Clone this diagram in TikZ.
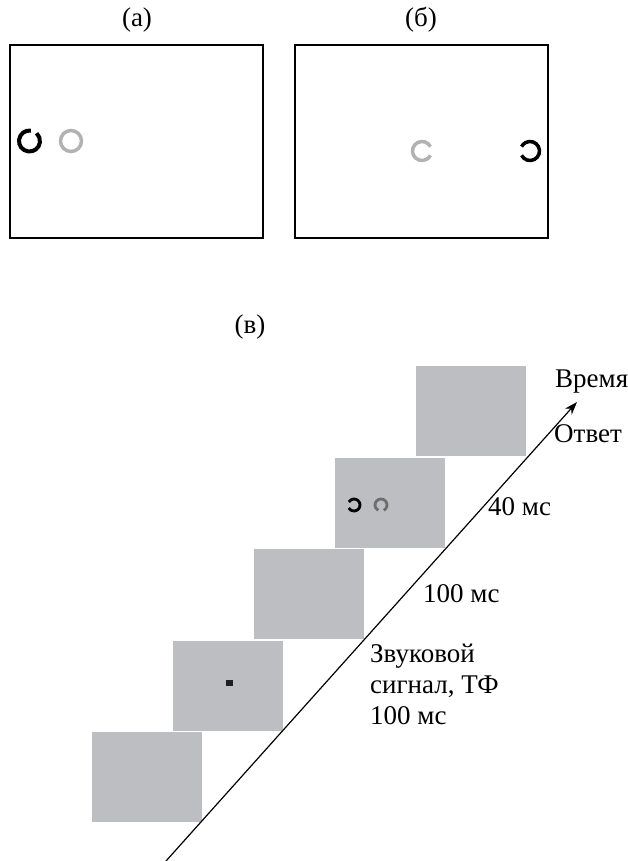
\documentclass[tikz,border=0pt]{standalone}
\usepackage{fontspec}
\setmainfont{Liberation Serif}
\usetikzlibrary{arrows.meta}

\definecolor{screen}{HTML}{BDBEC2}
\definecolor{lightring}{HTML}{B2B2B2}
\definecolor{darkring}{HTML}{6E6E6E}

% ring with a gap: centre, radius, gap direction, gap width, draw options
\newcommand\gapring[5]{%
  \draw[#5] (#1) ++({#3+#4/2}:#2) arc[start angle={#3+#4/2}, delta angle={360-#4}, radius=#2];}

\tikzset{
  frame/.style={draw=black, line width=1.3pt},
  panel/.style={draw=none, fill=screen, minimum width=110pt, minimum height=90pt, inner sep=0pt},
  lbl/.style={font=\fontsize{27}{31}\selectfont, inner sep=0pt},
  timeline/.style={line width=1.2pt, -{Stealth[length=13pt,width=9pt]}},
}

\begin{document}
\begin{tikzpicture}[x=1pt,y=-1pt]
\useasboundingbox (0,0) rectangle (627,861);

% --- panels (a) and (b)
\node[lbl, anchor=base] (la) at (137,27) {(а)};
\node[lbl, anchor=base] (lb) at (421,27) {(б)};
\draw[frame] (10,45) rectangle (263,238);
\draw[frame] (295,45) rectangle (548,238);

\coordinate (a1) at (29.5,141);
\coordinate (a2) at (71,141);
\gapring{a1}{10.5pt}{65}{35}{line width=4pt, black}
\draw[line width=3.5pt, lightring] (a2) circle[radius=10.5pt];

\coordinate (b1) at (422,151);
\coordinate (b2) at (530,151);
\gapring{b1}{9.5pt}{0}{55}{line width=3.5pt, lightring}
\gapring{b2}{9.5pt}{180}{55}{line width=3.5pt, black}

% --- panel (c): sequence of screens
\node[lbl, anchor=base] (lc) at (250,333) {(в)};

\node[panel] (s0) at (147,777) {};
\node[panel] (s1) at (228,685.5) {};
\node[panel] (s2) at (309,594) {};
\node[panel] (s3) at (390,502.5) {};
\node[panel] (s4) at (471,411) {};

% fixation point
\node[fill=black!88, minimum size=6.5pt, inner sep=0pt] (fix) at (229.5,683) {};

% stimulus pair
\coordinate (c1) at (354,505);
\coordinate (c2) at (381,505);
\gapring{c1}{6pt}{180}{60}{line width=2.8pt, black}
\gapring{c2}{6pt}{270}{55}{line width=2.8pt, darkring}

% time axis
\coordinate (t0) at (166,861);
\coordinate (t1) at (577,402);
\draw[timeline] (t0) -- (t1);

\node[lbl, anchor=base west] (time) at (555,387) {Время};
\node[lbl, anchor=base west] (resp) at (554,442) {Ответ};
\node[lbl, anchor=base west] (d40) at (488,515) {40 мс};
\node[lbl, anchor=base west] (d100) at (423,602) {100 мс};
\node[lbl, anchor=base west] (snd1) at (370,662) {Звуковой};
\node[lbl, anchor=base west] (snd2) at (370,693) {сигнал, ТФ};
\node[lbl, anchor=base west] (snd3) at (370,724) {100 мс};
\end{tikzpicture}
\end{document}
